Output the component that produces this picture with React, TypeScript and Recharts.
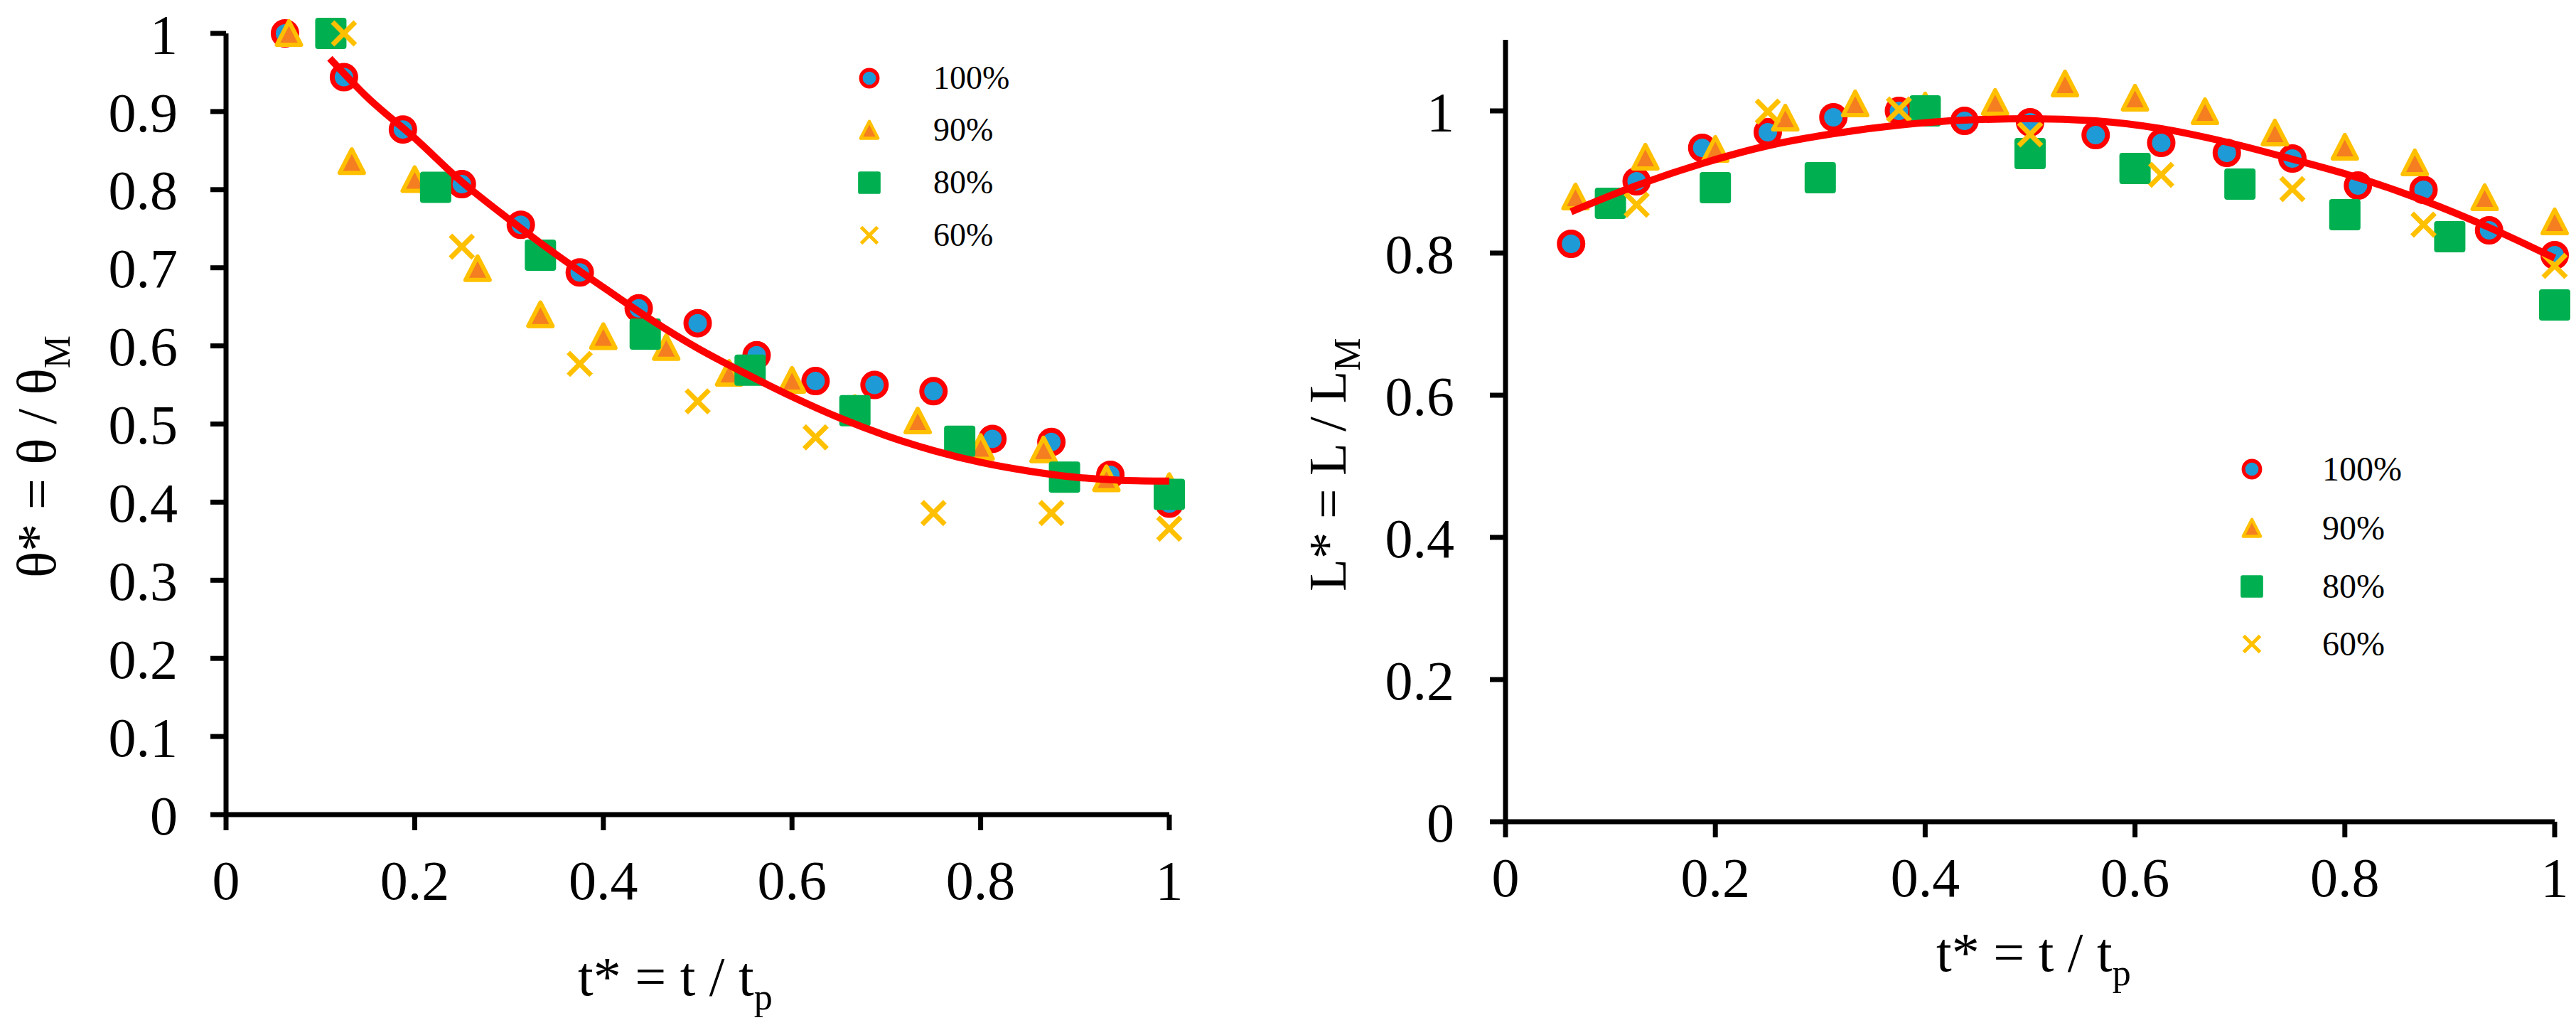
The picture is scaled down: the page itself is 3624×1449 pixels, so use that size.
import React from "react";
import { ScatterChart, Scatter, XAxis, YAxis } from "recharts";

const FONT = '"Liberation Serif", "Times New Roman", serif';

// x positions (t* = t / tp) for each test group
const t16 = [0.0625, 0.125, 0.1875, 0.25, 0.3125, 0.375, 0.4375, 0.5, 0.5625, 0.625, 0.6875, 0.75, 0.8125, 0.875, 0.9375, 1];
const t15 = [0.0667, 0.1333, 0.2, 0.2667, 0.3333, 0.4, 0.4667, 0.5333, 0.6, 0.6667, 0.7333, 0.8, 0.8667, 0.9333, 1];
const t10 = [0.1, 0.2, 0.3, 0.4, 0.5, 0.6, 0.7, 0.8, 0.9, 1];
const t9 = [0.1111, 0.2222, 0.3333, 0.4444, 0.5556, 0.6667, 0.7778, 0.8889, 1];
const t8 = [0.125, 0.25, 0.375, 0.5, 0.625, 0.75, 0.875, 1];

// left panel: theta* = theta / thetaM
const theta100 = [1.0, 0.944, 0.877, 0.807, 0.755, 0.694, 0.648, 0.629, 0.588, 0.555, 0.55, 0.542, 0.481, 0.477, 0.435, 0.398];
const theta90 = [1.0, 0.836, 0.813, 0.699, 0.64, 0.612, 0.598, 0.565, 0.556, 0.52, 0.504, 0.47, 0.467, 0.43, 0.42];
const theta80 = [1.0, 0.803, 0.716, 0.615, 0.569, 0.517, 0.478, 0.432, 0.41];
const theta60 = [1.0, 0.727, 0.577, 0.529, 0.483, 0.386, 0.386, 0.366];
const thetaFitX = [0.11, 0.15, 0.2, 0.25, 0.3, 0.35, 0.4, 0.45, 0.5, 0.55, 0.6, 0.65, 0.7, 0.75, 0.8, 0.85, 0.9, 0.95, 1];
const thetaFitY = [0.968, 0.918, 0.866, 0.81, 0.762, 0.717, 0.675, 0.634, 0.597, 0.565, 0.535, 0.508, 0.485, 0.466, 0.451, 0.44, 0.432, 0.428, 0.427];

// right panel: L* = L / LM
const len100 = [0.813, 0.901, 0.948, 0.97, 0.991, 1.0, 0.986, 0.984, 0.966, 0.955, 0.941, 0.933, 0.895, 0.889, 0.832, 0.797];
const len90 = [0.879, 0.935, 0.946, 0.99, 1.01, 1.007, 1.012, 1.038, 1.018, 0.999, 0.969, 0.949, 0.927, 0.878, 0.844];
const len80 = [0.87, 0.892, 0.906, 1.0, 0.94, 0.919, 0.897, 0.854, 0.823, 0.727];
const len60 = [0.868, 0.999, 1.002, 0.967, 0.91, 0.89, 0.84, 0.782];
const lenFitX = [0.0625, 0.125, 0.1875, 0.25, 0.3125, 0.375, 0.4375, 0.5, 0.5625, 0.625, 0.6875, 0.75, 0.8125, 0.875, 0.9375, 1];
const lenFitY = [0.858, 0.895, 0.926, 0.951, 0.968, 0.98, 0.987, 0.989, 0.986, 0.975, 0.956, 0.932, 0.906, 0.874, 0.836, 0.793];

const xTicks = [0, 0.2, 0.4, 0.6, 0.8, 1];
const thetaTicks = [0, 0.1, 0.2, 0.3, 0.4, 0.5, 0.6, 0.7, 0.8, 0.9, 1];
const lenTicks = [0, 0.2, 0.4, 0.6, 0.8, 1];
const seriesNames = ["100%", "90%", "80%", "60%"];

const zip = (xs: number[], ys: number[]) => xs.map((x, i) => ({ x, y: ys[i] }));

const BLUE = "#1E9BD7";
const RED = "#FF0000";
const GOLD = "#FFC000";
const ORANGE = "#F47E20";
const GREEN = "#00B050";

function Ring({ cx, cy, s = 1 }: any) {
  return <circle cx={cx} cy={cy} r={16.5 * s} fill={BLUE} stroke={RED} strokeWidth={7 * s} />;
}

function Tri({ cx, cy, s = 1 }: any) {
  const pts = `${cx},${cy - 17 * s} ${cx - 17 * s},${cy + 16 * s} ${cx + 17 * s},${cy + 16 * s}`;
  return <polygon points={pts} fill={ORANGE} stroke={GOLD} strokeWidth={6 * s} strokeLinejoin="round" />;
}

function Sq({ cx, cy, s = 1 }: any) {
  const h = 22 * s;
  return <rect x={cx - h} y={cy - h} width={2 * h} height={2 * h} rx={4 * s} fill={GREEN} />;
}

function Cross({ cx, cy, s = 1 }: any) {
  const d = 16 * s;
  return (
    <g stroke={GOLD} strokeWidth={7 * s}>
      <line x1={cx - d} y1={cy - d} x2={cx + d} y2={cy + d} />
      <line x1={cx - d} y1={cy + d} x2={cx + d} y2={cy - d} />
    </g>
  );
}

const markers = [Ring, Tri, Sq, Cross];

const tickStyle = { fontFamily: FONT, fontSize: 78, fill: "#000" };
const axisStyle = { stroke: "#000", strokeWidth: 7 };

function Panel(props: any) {
  const { sets, fit, width, margin, yDomain, yTicks, yMargin, xMargin } = props;
  return (
    <ScatterChart width={width} height={1449} margin={margin}>
      <XAxis
        type="number"
        dataKey="x"
        domain={[0, 1]}
        ticks={xTicks}
        interval={0}
        height={200}
        tick={tickStyle}
        tickSize={22}
        tickMargin={xMargin}
        axisLine={axisStyle}
        tickLine={axisStyle}
      />
      <YAxis
        type="number"
        dataKey="y"
        domain={yDomain}
        ticks={yTicks}
        interval={0}
        width={318}
        tick={tickStyle}
        tickSize={22}
        tickMargin={yMargin}
        axisLine={axisStyle}
        tickLine={axisStyle}
      />
      {sets.map((d: any, i: number) => {
        const M = markers[i];
        return (
          <Scatter
            key={seriesNames[i]}
            name={seriesNames[i]}
            data={d}
            dataKey="y"
            isAnimationActive={false}
            shape={(p: any) => <M cx={p.cx} cy={p.cy} />}
          />
        );
      })}
      <Scatter
        name="fit"
        data={fit}
        dataKey="y"
        isAnimationActive={false}
        line={{ stroke: RED, strokeWidth: 10 }}
        lineType="joint"
        lineJointType="monotoneX"
        shape={() => <g />}
      />
    </ScatterChart>
  );
}

function LegendBox({ x, tx, rows, size }: any) {
  return (
    <g>
      {seriesNames.map((n, i) => {
        const M = markers[i];
        return (
          <g key={n}>
            <M cx={x} cy={rows[i]} s={0.72} />
            <text x={tx} y={rows[i] + size * 0.33} fontFamily={FONT} fontSize={size} fill="#000">
              {n}
            </text>
          </g>
        );
      })}
    </g>
  );
}

export default function App() {
  const leftSets = [zip(t16, theta100), zip(t15, theta90), zip(t9, theta80), zip(t8, theta60)];
  const rightSets = [zip(t16, len100), zip(t15, len90), zip(t10, len80), zip(t8, len60)];
  return (
    <div style={{ position: "absolute", left: 0, top: 0, width: 3624, height: 1449, background: "#fff" }}>
      <div style={{ position: "absolute", left: 0, top: 0 }}>
        <Panel
          sets={leftSets}
          fit={zip(thetaFitX, thetaFitY)}
          width={1800}
          margin={{ top: 47, right: 155, bottom: 103, left: 0 }}
          yDomain={[0, 1]}
          yTicks={thetaTicks}
          yMargin={46}
          xMargin={42}
        />
      </div>
      <div style={{ position: "absolute", left: 1800, top: 0 }}>
        <Panel
          sets={rightSets}
          fit={zip(lenFitX, lenFitY)}
          width={1824}
          margin={{ top: 56, right: 30, bottom: 93, left: 0 }}
          yDomain={[0, 1.1]}
          yTicks={lenTicks}
          yMargin={50}
          xMargin={28}
        />
      </div>
      <svg
        width={3624}
        height={1449}
        style={{ position: "absolute", left: 0, top: 0, pointerEvents: "none" }}
      >
        <g fontFamily={FONT} fontSize={78} fill="#000">
          <text x={813} y={1400}>
            t* = t / t<tspan fontSize={52} dy={20}>p</tspan>
          </text>
          <text x={2724} y={1366}>
            t* = t / t<tspan fontSize={52} dy={20}>p</tspan>
          </text>
          <text transform="translate(78,813) rotate(-90)">
            θ* = θ / θ<tspan fontSize={52} dy={20}>M</tspan>
          </text>
          <text transform="translate(1893,832) rotate(-90)" fontSize={75}>
            L* = L / L<tspan fontSize={52} dy={20}>M</tspan>
          </text>
        </g>
        <LegendBox x={1223} tx={1313} rows={[110, 183, 257, 331]} size={46} />
        <LegendBox x={3168} tx={3267} rows={[660, 743, 825, 906]} size={48} />
      </svg>
    </div>
  );
}
